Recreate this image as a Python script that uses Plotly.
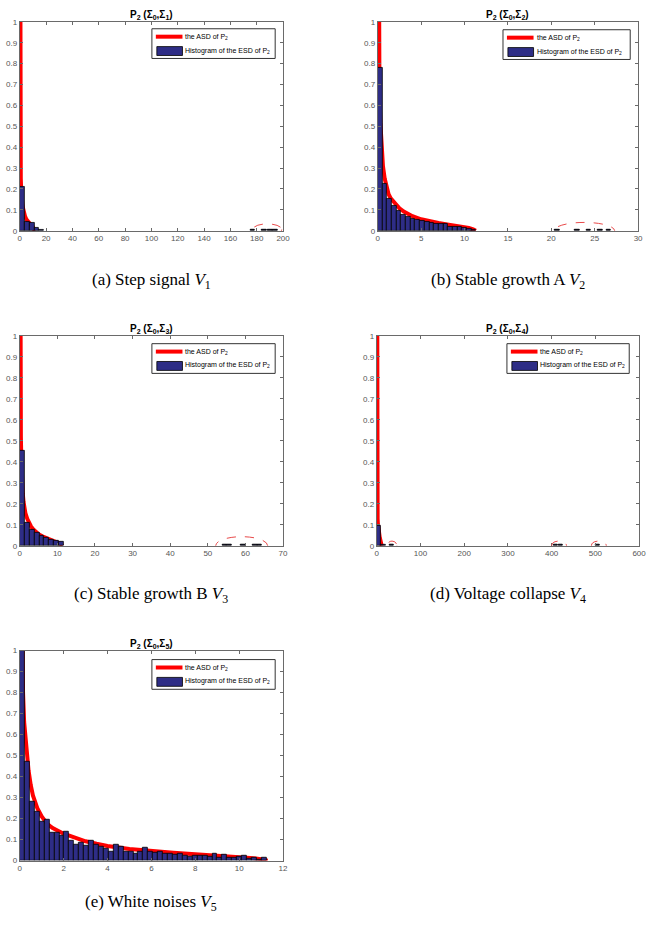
import plotly.graph_objects as go

# ---------------- data ----------------
# ASD curve (same curve in every panel, clipped at y=1)
asd_x = [0.03, 0.1, 0.15, 0.2, 0.3, 0.4, 0.5, 0.6, 0.8, 1.0, 1.25, 1.5, 2.0, 2.5,
         3.0, 3.5, 4.0, 5.0, 6.0, 7.0, 8.0, 9.0, 10.0, 10.5, 11.0, 11.3]
asd_y = [2.5, 1.0, 0.8, 0.66, 0.52, 0.43, 0.36, 0.31, 0.25, 0.21, 0.175, 0.155, 0.128,
         0.108, 0.092, 0.08, 0.07, 0.055, 0.045, 0.037, 0.03, 0.024, 0.018, 0.013, 0.007, 0.0]

# histogram bin widths and heights per panel
bin_w_a = 3.7
hist_a = [0.21, 0.042, 0.036, 0.015, 0.004]
bin_w_b = 0.54
hist_b = [0.78, 0.225, 0.155, 0.12, 0.097, 0.078, 0.066, 0.058, 0.052, 0.047, 0.042,
          0.038, 0.034, 0.031, 0.032, 0.02, 0.02, 0.018, 0.012, 0.01, 0.005]
bin_w_c = 1.3
hist_c = [0.45, 0.11, 0.078, 0.06, 0.048, 0.038, 0.03, 0.025, 0.018]
bin_w_d = 10
hist_d = [0.095, 0.004]
bin_w_e = 0.225
hist_e = [1.0, 0.47, 0.28, 0.235, 0.185, 0.195, 0.135, 0.135, 0.12, 0.14,
          0.095, 0.075, 0.085, 0.07, 0.095, 0.075, 0.065, 0.055, 0.045, 0.078,
          0.065, 0.045, 0.045, 0.035, 0.045, 0.06, 0.045, 0.04, 0.045, 0.035,
          0.032, 0.03, 0.035, 0.025, 0.02, 0.022, 0.022, 0.025, 0.018, 0.035,
          0.015, 0.03, 0.012, 0.012, 0.018, 0.025, 0.008, 0.012, 0.006, 0.012]

# outlying eigenvalues (tiny bars far from the bulk)
out_a = [177, 186, 190, 194]
out_b = [20.7, 23.0, 24.3, 25.6, 26.6]
out_c = [54.5, 55.8, 59.5, 62.5, 63.8]
out_d = [35, 410, 421, 505]
out_h = 0.004

# red dashed ellipses: (center x, center y, half-width x, half-height y)
ell_a = [(188, 0.006, 11, 0.027)]
ell_b = [(23.8, 0.0, 3.5, 0.04)]
ell_c = [(59, 0.0, 6.9, 0.043)]
ell_d = [(35, 0.0, 11, 0.022), (417, 0.0, 17, 0.022), (508, 0.0, 17, 0.022)]
ell_e = []

x_max = [200, 30, 70, 600, 12]
x_dtick = [20, 5, 10, 100, 2]
y_ticks = [0, 0.1, 0.2, 0.3, 0.4, 0.5, 0.6, 0.7, 0.8, 0.9, 1]
y_ticklabels = ["0", "0.1", "0.2", "0.3", "0.4", "0.5", "0.6", "0.7", "0.8", "0.9", "1"]

titles = ["<b>P<sub>2</sub> (Σ<sub>0</sub>,Σ<sub>%d</sub>)</b>" % k for k in range(1, 6)]
captions = ["(a) Step signal <i>V</i><sub>1</sub>",
            "(b) Stable growth A <i>V</i><sub>2</sub>",
            "(c) Stable growth B <i>V</i><sub>3</sub>",
            "(d) Voltage collapse <i>V</i><sub>4</sub>",
            "(e) White noises <i>V</i><sub>5</sub>"]
legend_asd = "the ASD of P<sub>2</sub>"
legend_hist = "Histogram of the ESD of P<sub>2</sub>"

# ---------------- layout geometry (pixels) ----------------
W, H = 652, 928
boxes = [  # left, right, top, bottom
    (18, 285, 18, 229),
    (381, 645, 18, 229),
    (18, 285, 335, 547),
    (380, 646, 335, 547),
    (18, 285, 653, 865),
]
legend_box = [  # left, right, top, bottom
    (152, 277, 25, 55),
    (508, 637, 26, 56),
    (152, 277, 343, 373),
    (512, 636, 343, 373),
    (152, 277, 662, 692),
]
caption_y = [280, 280, 597, 597, 908]

NAVY = "#2e2d86"
RED = "#ff0000"
AXC = "#6a6a6a"
SANS = "Liberation Sans, Arial"

bins = [(bin_w_a, hist_a), (bin_w_b, hist_b), (bin_w_c, hist_c), (bin_w_d, hist_d), (bin_w_e, hist_e)]
outs = [(out_a, bin_w_a), (out_b, bin_w_b), (out_c, bin_w_c), (out_d, bin_w_d), ([], bin_w_e)]
ells = [ell_a, ell_b, ell_c, ell_d, ell_e]

fig = go.Figure()
layout = dict(width=W, height=H, margin=dict(l=0, r=0, t=0, b=0),
              paper_bgcolor="white", plot_bgcolor="white", showlegend=False,
              barmode="overlay", bargap=0, shapes=[], annotations=[])


def px_x(v):
    return v / W


def px_y(v):
    return 1 - v / H


for i in range(5):
    sfx = "" if i == 0 else str(i + 1)
    osfx = str(i + 6)
    xa, ya = "x" + sfx, "y" + sfx
    xo, yo = "x" + osfx, "y" + osfx
    l, r, t, b = boxes[i]

    # ASD curve on the base axes
    fig.add_trace(go.Scatter(x=asd_x, y=asd_y, mode="lines", name=legend_asd,
                             line=dict(color=RED, width=4), xaxis=xa, yaxis=ya,
                             hoverinfo="skip"))
    # histogram on an overlaid pair of axes so it sits above the curve
    w, h = bins[i]
    fig.add_trace(go.Bar(x=[w * (k + 0.5) for k in range(len(h))], y=h, width=w,
                         name=legend_hist, xaxis=xo, yaxis=yo,
                         marker=dict(color=NAVY, line=dict(color="black", width=0.8))))
    ox, ow = outs[i]
    if ox:
        fig.add_trace(go.Bar(x=ox, y=[out_h] * len(ox), width=ow, xaxis=xo, yaxis=yo,
                             marker=dict(color=NAVY, line=dict(color="black", width=1))))

    axis_common = dict(showline=True, linecolor=AXC, linewidth=1, mirror="ticks",
                       ticks="inside", ticklen=3, tickcolor=AXC, showgrid=False,
                       zeroline=False, tickfont=dict(family=SANS, size=8, color="#555555"))
    layout["xaxis" + sfx] = dict(domain=[px_x(l), px_x(r)], anchor=ya, range=[0, x_max[i]],
                                 dtick=x_dtick[i], tick0=0, **axis_common)
    layout["yaxis" + sfx] = dict(domain=[px_y(b), px_y(t)], anchor=xa, range=[0, 1],
                                 tickvals=y_ticks, ticktext=y_ticklabels, **axis_common)
    layout["xaxis" + osfx] = dict(overlaying=xa, anchor=yo, range=[0, x_max[i]], visible=False)
    layout["yaxis" + osfx] = dict(overlaying=ya, anchor=xo, range=[0, 1], visible=False)

    for (cx, cy, rx, ry) in ells[i]:
        layout["shapes"].append(dict(type="circle", xref=xa, yref=ya,
                                     x0=cx - rx, x1=cx + rx, y0=cy - ry, y1=cy + ry,
                                     line=dict(color="#e84a4a", width=1, dash="dash")))

    # legend drawn by hand (MATLAB style)
    L, R, T, B = legend_box[i]
    layout["shapes"].append(dict(type="rect", xref="paper", yref="paper",
                                 x0=px_x(L), x1=px_x(R), y0=px_y(B), y1=px_y(T),
                                 line=dict(color="#333333", width=1), fillcolor="white"))
    layout["shapes"].append(dict(type="line", xref="paper", yref="paper",
                                 x0=px_x(L + 4), x1=px_x(L + 31), y0=px_y(T + 8), y1=px_y(T + 8),
                                 line=dict(color=RED, width=4)))
    layout["shapes"].append(dict(type="rect", xref="paper", yref="paper",
                                 x0=px_x(L + 5), x1=px_x(L + 31), y0=px_y(T + 27), y1=px_y(T + 18),
                                 line=dict(color="black", width=0.8), fillcolor=NAVY))
    layout["annotations"].append(dict(text=legend_asd, x=px_x(L + 32), y=px_y(T + 8),
                                      xref="paper", yref="paper", xanchor="left", yanchor="middle",
                                      showarrow=False, font=dict(family=SANS, size=7, color="black")))
    layout["annotations"].append(dict(text=legend_hist, x=px_x(L + 32), y=px_y(T + 22),
                                      xref="paper", yref="paper", xanchor="left", yanchor="middle",
                                      showarrow=False, font=dict(family=SANS, size=7, color="black")))

    layout["annotations"].append(dict(text=titles[i], x=px_x((l + r) / 2), y=px_y(t - 7),
                                      xref="paper", yref="paper", xanchor="center", yanchor="middle",
                                      showarrow=False, font=dict(family=SANS, size=10, color="black")))
    layout["annotations"].append(dict(text=captions[i], x=px_x((l + r) / 2), y=px_y(caption_y[i]),
                                      xref="paper", yref="paper", xanchor="center", yanchor="middle",
                                      showarrow=False,
                                      font=dict(family="Liberation Serif, Times New Roman", size=17,
                                                color="black")))

fig.update_layout(**layout)
fig.write_html("out.html")
